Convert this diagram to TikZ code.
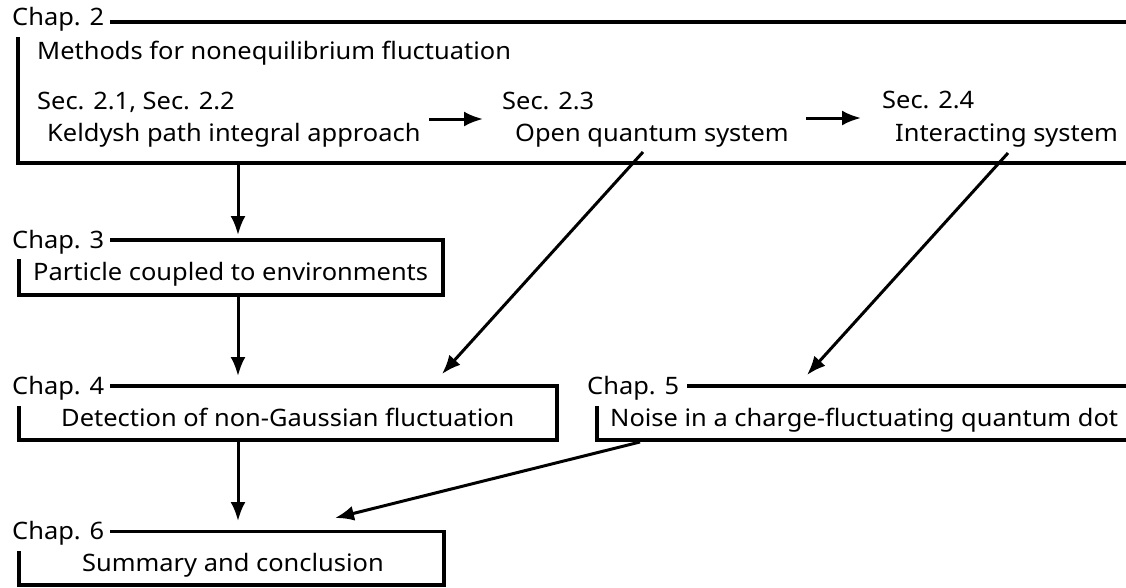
\documentclass[tikz,border=0pt]{standalone}
\usepackage{fontspec}
\setmainfont{Noto Sans}[FakeStretch=1.06]
\usetikzlibrary{arrows.meta}
\begin{document}
\begin{tikzpicture}[x=1pt,y=-1pt,
  boxline/.style={line width=3.2pt, line cap=butt, line join=miter},
  conn/.style={line width=3pt, -{Latex[length=19pt,width=15pt]}},
  txt/.style={anchor=base west, inner sep=0pt, font=\fontsize{24}{28}\selectfont}]
\useasboundingbox (0,0) rectangle (1126,587);
% texts
\node[txt] (c2) at (12,25) {Chap. 2};
\node[txt] (m2) at (37,59) {Methods for nonequilibrium fluctuation};
\node[txt] (s21) at (37,109.5) {Sec. 2.1, Sec. 2.2};
\node[txt] (kel) at (47,141) {Keldysh path integral approach};
\node[txt] (s23) at (502,109) {Sec. 2.3};
\node[txt] (oqs) at (515,141.5) {Open quantum system};
\node[txt] (s24) at (882,108.5) {Sec. 2.4};
\node[txt] (int) at (895,141.5) {Interacting system};
\node[txt] (c3) at (12,248) {Chap. 3};
\node[txt] (t3) at (33,280) {Particle coupled to environments};
\node[txt] (c4) at (12,394) {Chap. 4};
\node[txt] (t4) at (61,426) {Detection of non-Gaussian fluctuation};
\node[txt] (c5) at (587,394) {Chap. 5};
\node[txt] (t5) at (610,426) {Noise in a charge-fluctuating quantum dot};
\node[txt] (c6) at (12,539.5) {Chap. 6};
\node[txt] (t6) at (82,571) {Summary and conclusion};
% boxes
\draw[boxline] (110,22) -- (1130,22);
\draw[boxline] (18,37) |- (1130,163);
\draw[boxline] (110,240) -| (443,295) -| (19,259);
\draw[boxline] (110,386) -| (557,440) -| (19,406);
\draw[boxline] (687,386) -- (1130,386);
\draw[boxline] (597,406) |- (1130,440);
\draw[boxline] (110,531.5) -| (444,585) -| (19,551);
% connector ends
\coordinate (a1s) at (238,163);
\coordinate (a1e) at (238,235);
\coordinate (a2s) at (238,295);
\coordinate (a2e) at (238,376);
\coordinate (a3s) at (238,440);
\coordinate (a3e) at (238,521);
\coordinate (d1s) at (643,152);
\coordinate (d1e) at (442,374);
\coordinate (d2s) at (1008,153);
\coordinate (d2e) at (807,375);
\coordinate (d3s) at (640,442);
\coordinate (d3e) at (335,518);
\coordinate (h1s) at (429,119);
\coordinate (h1e) at (483,119);
\coordinate (h2s) at (806,118);
\coordinate (h2e) at (861,118);
% connectors
\draw[conn] (a1s) -- (a1e);
\draw[conn] (a2s) -- (a2e);
\draw[conn] (a3s) -- (a3e);
\draw[conn] (d1s) -- (d1e);
\draw[conn] (d2s) -- (d2e);
\draw[conn] (d3s) -- (d3e);
\draw[conn] (h1s) -- (h1e);
\draw[conn] (h2s) -- (h2e);
\end{tikzpicture}
\end{document}
